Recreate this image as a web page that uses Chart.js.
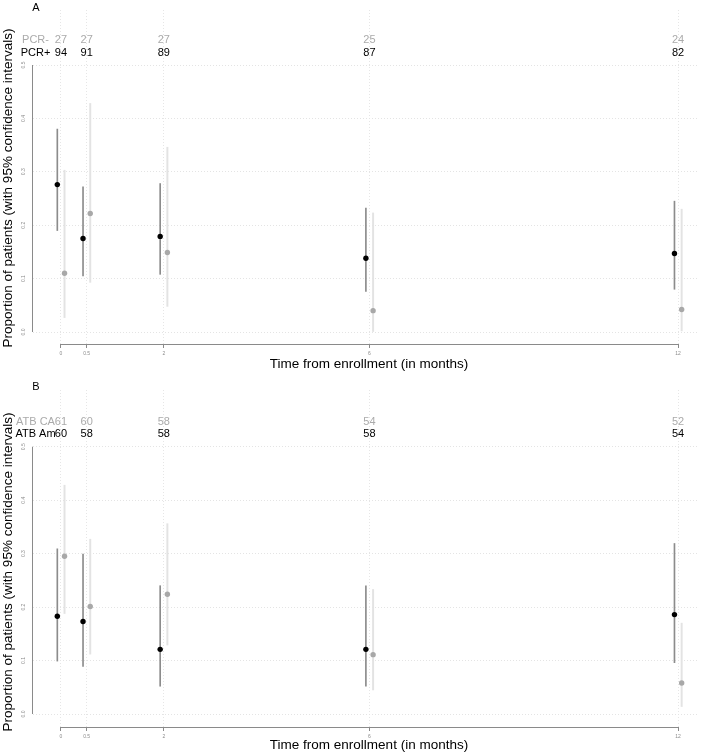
<!DOCTYPE html>
<html><head><meta charset="utf-8">
<script src="https://cdn.jsdelivr.net/npm/chart.js@4.4.0/dist/chart.umd.min.js"></script>
<style>
html,body{margin:0;padding:0;background:#fff;}
#wrap{position:relative;width:703px;height:756px;overflow:hidden;}
canvas{position:absolute;left:0;}
</style></head><body>
<div id="wrap">
<canvas id="cA" width="703" height="378" style="top:0"></canvas>
<canvas id="cB" width="703" height="378" style="top:378px"></canvas>
</div>
<script>
// ---- data ----
const times = [0, 0.5, 2, 6, 12];
const yTickValues = [0, 0.1, 0.2, 0.3, 0.4, 0.5];
const DODGE = 0.07;

// Panel A
const labelPCRneg = "PCR-";
const labelPCRpos = "PCR+";
const nPCRneg = [27, 27, 27, 25, 24];
const nPCRpos = [94, 91, 89, 87, 82];
const pcrPos   = [0.276, 0.175, 0.179, 0.138, 0.147];
const pcrPosLo = [0.190, 0.105, 0.108, 0.076, 0.080];
const pcrPosHi = [0.380, 0.272, 0.278, 0.232, 0.245];
const pcrNeg   = [0.110, 0.222, 0.149, 0.040, 0.042];
const pcrNegLo = [0.027, 0.093, 0.048, 0.000, 0.002];
const pcrNegHi = [0.303, 0.428, 0.346, 0.223, 0.230];

// Panel B
const labelCA = "ATB CA";
const labelAm = "ATB Am";
const nCA = [61, 60, 58, 54, 52];
const nAm = [60, 58, 58, 58, 54];
const am   = [0.183, 0.173, 0.121, 0.121, 0.186];
const amLo = [0.099, 0.089, 0.052, 0.052, 0.096];
const amHi = [0.309, 0.299, 0.240, 0.240, 0.319];
const ca   = [0.295, 0.201, 0.224, 0.111, 0.058];
const caLo = [0.188, 0.112, 0.129, 0.045, 0.014];
const caHi = [0.428, 0.327, 0.356, 0.233, 0.170];

const xTitle = "Time from enrollment (in months)";
const yTitle = "Proportion of patients (with 95% confidence intervals)";

// ---- drawing ----
const FONT = "'Liberation Sans', Arial, sans-serif";
const GRAY_TXT = '#ababab';

function makePanel(id, p) {
  const ctxEl = document.getElementById(id);
  const pts = (vals, off) => vals.map((v, i) => ({x: times[i] + off, y: v}));
  const bars = (lo, hi, off) => lo.map((l, i) => ({x: times[i] + off, y: [l, hi[i]]}));

  const textPlugin = {
    id: 'panelText',
    afterDraw(chart) {
      const ctx = chart.ctx;
      const xs = chart.scales.x, ys = chart.scales.y;
      ctx.save();
      ctx.strokeStyle = '#8a8a8a';
      ctx.lineWidth = 1;
      const ax = Math.round(chart.chartArea.left) - 0.5;
      ctx.beginPath();
      ctx.moveTo(ax, ys.getPixelForValue(yTickValues[0]));
      ctx.lineTo(ax, ys.getPixelForValue(yTickValues[yTickValues.length - 1]));
      ctx.stroke();
      const ay = Math.round(chart.chartArea.bottom) + 0.5;
      ctx.beginPath();
      ctx.moveTo(xs.getPixelForValue(times[0]), ay);
      ctx.lineTo(xs.getPixelForValue(times[times.length - 1]), ay);
      ctx.stroke();

      ctx.textAlign = 'center';
      ctx.textBaseline = 'alphabetic';
      ctx.font = '11px ' + FONT;
      ctx.fillStyle = '#000';
      ctx.fillText(p.letter, 36, p.letterY);
      ctx.fillStyle = GRAY_TXT;
      ctx.fillText(p.grayLabel, 35.5, p.row1Y);
      ctx.fillStyle = '#000';
      ctx.fillText(p.blackLabel, 35.5, p.row2Y);
      times.forEach((t, i) => {
        const px = xs.getPixelForValue(t);
        ctx.fillStyle = GRAY_TXT;
        ctx.fillText(String(p.grayN[i]), px, p.row1Y);
        ctx.fillStyle = '#000';
        ctx.fillText(String(p.blackN[i]), px, p.row2Y);
      });
      ctx.font = '13.5px ' + FONT;
      ctx.fillStyle = '#000';
      ctx.fillText(xTitle, 369, p.xTitleY);
      ctx.save();
      ctx.translate(12, p.yTitleY);
      ctx.rotate(-Math.PI / 2);
      ctx.fillText(yTitle, 0, 0);
      ctx.restore();
      ctx.restore();
    }
  };

  return new Chart(ctxEl, {
    type: 'scatter',
    data: {
      datasets: [
        {type: 'scatter', data: pts(p.black, -DODGE), backgroundColor: '#000', borderWidth: 0, pointRadius: 2.7, order: 0},
        {type: 'scatter', data: pts(p.gray, DODGE), backgroundColor: '#a8a8a8', borderWidth: 0, pointRadius: 2.7, order: 0},
        {type: 'bar', data: bars(p.blackLo, p.blackHi, -DODGE), backgroundColor: '#8c8c8c', borderWidth: 0, barThickness: 1, grouped: false, order: 1},
        {type: 'bar', data: bars(p.grayLo, p.grayHi, DODGE), backgroundColor: '#e3e3e3', borderWidth: 0, barThickness: 1.3, grouped: false, order: 1}
      ]
    },
    options: {
      responsive: false,
      animation: false,
      devicePixelRatio: 1,
      events: [],
      layout: {padding: {top: p.top, right: 2, left: 0, bottom: 0}},
      plugins: {legend: {display: false}, tooltip: {enabled: false}, title: {display: false}},
      scales: {
        x: {
          type: 'linear', min: -0.5428, max: 12.407, offset: false,
          afterBuildTicks: s => { s.ticks = times.map(v => ({value: v})); },
          afterFit: s => { s.height = p.xScaleH; },
          grid: {offset: false, color: '#e6e6e6', lineWidth: 1, drawTicks: true, tickLength: 4, tickColor: '#8a8a8a', tickBorderDash: []},
          border: {display: false, dash: [1, 2]},
          ticks: {font: {size: 5, family: FONT}, color: '#8c8c8c', padding: 3, maxRotation: 0, minRotation: 0,
                  callback: v => String(v)}
        },
        y: {
          type: 'linear', min: p.yMin, max: p.yMax,
          afterBuildTicks: s => { s.ticks = yTickValues.map(v => ({value: v})); },
          afterFit: s => { s.width = 33; },
          grid: {offset: false, color: '#e4e4e4', lineWidth: 1, drawTicks: false},
          border: {display: false, dash: [1, 2]},
          ticks: {font: {size: 5, family: FONT}, color: '#8c8c8c', padding: 6, minRotation: 90, maxRotation: 90,
                  crossAlign: 'center', callback: v => Number(v).toFixed(1)}
        }
      }
    },
    plugins: [textPlugin]
  });
}

makePanel('cA', {
  letter: 'A', letterY: 10.5, row1Y: 43, row2Y: 56, xTitleY: 368, yTitleY: 188,
  grayLabel: labelPCRneg, blackLabel: labelPCRpos, grayN: nPCRneg, blackN: nPCRpos,
  black: pcrPos, blackLo: pcrPosLo, blackHi: pcrPosHi,
  gray: pcrNeg, grayLo: pcrNegLo, grayHi: pcrNegHi,
  top: 10, xScaleH: 34, yMin: -0.02247, yMax: 0.603
});
makePanel('cB', {
  letter: 'B', letterY: 12, row1Y: 46.5, row2Y: 59, xTitleY: 371, yTitleY: 194,
  grayLabel: labelCA, blackLabel: labelAm, grayN: nCA, blackN: nAm,
  black: am, blackLo: amLo, blackHi: amHi,
  gray: ca, grayLo: caLo, grayHi: caHi,
  top: 12, xScaleH: 29, yMin: -0.0243, yMax: 0.6061
});
</script>
</body></html>
